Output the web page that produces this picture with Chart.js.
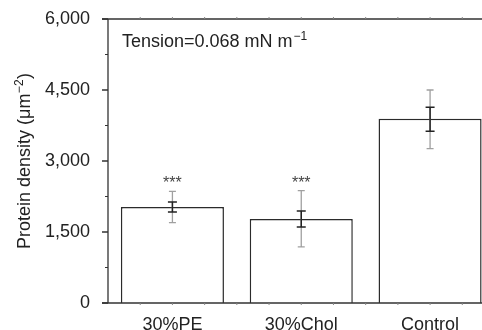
<!DOCTYPE html>
<html>
<head>
<meta charset="utf-8">
<script src="https://cdn.jsdelivr.net/npm/chart.js@4"></script>
<style>
  html, body { margin: 0; padding: 0; background: #fff; overflow: hidden; }
  #wrap { width: 500px; height: 330px; }
</style>
</head>
<body>
<div id="wrap"><canvas id="c" width="500" height="330"></canvas></div>
<script>
// ---- data ----
const categories = ['30%PE', '30%Chol', 'Control'];
const means      = [2030, 1775, 3890];
const semLow     = [1925, 1605, 3630];
const semHigh    = [2135, 1945, 4135];
const sdLow      = [1700, 1185, 3260];
const sdHigh     = [2360, 2375, 4500];
const significance = ['***', '***', ''];
const yTicks     = [0, 1500, 3000, 4500, 6000];
const annotationMain = 'Tension=0.068 mN m';
const annotationSup  = '\u22121';
const yTitleMain = 'Protein density (\u03BCm';
const yTitleSup  = '\u22122';
const yTitleEnd  = ')';

const FONT = '"Liberation Sans", Arial, Helvetica, sans-serif';
const TXT = '#222';
const AX = '#333';

const overlay = {
  id: 'overlay',
  afterDraw(chart) {
    const ctx = chart.ctx;
    const xs = chart.scales.x, ys = chart.scales.y;
    const ca = chart.chartArea;
    const L = ca.left, T = ys.getPixelForValue(6000), B = ys.getPixelForValue(0);
    ctx.save();
    ctx.strokeStyle = AX;
    ctx.lineWidth = 1.3;
    ctx.beginPath();
    ctx.moveTo(L, T); ctx.lineTo(L, B);
    ctx.moveTo(L - 6, B); ctx.lineTo(chart.width, B);
    ctx.moveTo(L - 6, T); ctx.lineTo(chart.width, T);
    ctx.stroke();
    ctx.beginPath();
    yTicks.forEach(v => { const y = ys.getPixelForValue(v); ctx.moveTo(L - 6, y); ctx.lineTo(L, y); });
    ctx.stroke();
    ctx.lineWidth = 1;
    ctx.beginPath();
    for (let i = 0; i < yTicks.length - 1; i++) {
      const y = ys.getPixelForValue((yTicks[i] + yTicks[i + 1]) / 2);
      ctx.moveTo(L - 3, y); ctx.lineTo(L, y);
    }
    ctx.stroke();
    ctx.strokeStyle = '#888';
    ctx.beginPath();
    for (let q = -0.25; q <= categories.length - 0.5; q += 0.25) {
      const x = xs.getPixelForValue(q);
      ctx.moveTo(x, B); ctx.lineTo(x, B + 2);
      ctx.moveTo(x, T); ctx.lineTo(x, T - 2);
    }
    ctx.stroke();

    const drawErr = (lo, hi, color, lw, cap) => {
      ctx.strokeStyle = color; ctx.lineWidth = lw;
      ctx.beginPath();
      categories.forEach((c, i) => {
        const x = xs.getPixelForValue(i);
        const y1 = ys.getPixelForValue(lo[i]), y2 = ys.getPixelForValue(hi[i]);
        ctx.moveTo(x, y1); ctx.lineTo(x, y2);
        ctx.moveTo(x - cap / 2, y1); ctx.lineTo(x + cap / 2, y1);
        ctx.moveTo(x - cap / 2, y2); ctx.lineTo(x + cap / 2, y2);
      });
      ctx.stroke();
    };
    drawErr(sdLow, sdHigh, '#a0a0a0', 1.3, 7);
    drawErr(semLow, semHigh, '#222', 1.5, 9);

    ctx.fillStyle = '#444';
    ctx.font = '16px ' + FONT;
    ctx.textAlign = 'center';
    ctx.textBaseline = 'alphabetic';
    categories.forEach((c, i) => {
      if (!significance[i]) return;
      const x = xs.getPixelForValue(i);
      ctx.fillText(significance[i], x, 188);
    });

    ctx.fillStyle = TXT;
    ctx.textAlign = 'left';
    ctx.font = '18px ' + FONT;
    const ax = 122, ay = 47;
    ctx.fillText(annotationMain, ax, ay);
    const w1 = ctx.measureText(annotationMain).width;
    ctx.font = '12px ' + FONT;
    ctx.fillText(annotationSup, ax + w1 + 1, ay - 7);

    ctx.translate(30, (T + B) / 2);
    ctx.rotate(-Math.PI / 2);
    ctx.font = '18px ' + FONT;
    const wa = ctx.measureText(yTitleMain).width;
    const wc = ctx.measureText(yTitleEnd).width;
    ctx.font = '12px ' + FONT;
    const wb = ctx.measureText(yTitleSup).width;
    const tot = wa + wb + wc + 1;
    let sx = -tot / 2;
    ctx.font = '18px ' + FONT;
    ctx.fillText(yTitleMain, sx, 0);
    sx += wa;
    ctx.font = '12px ' + FONT;
    ctx.fillText(yTitleSup, sx + 0.5, -7);
    sx += wb + 1;
    ctx.font = '18px ' + FONT;
    ctx.fillText(yTitleEnd, sx, 0);
    ctx.restore();
  }
};

new Chart(document.getElementById('c'), {
  type: 'bar',
  data: {
    labels: categories,
    datasets: [{
      data: means,
      backgroundColor: '#ffffff',
      borderColor: '#2b2b2b',
      borderWidth: 1.5,
      barPercentage: 0.8,
      categoryPercentage: 1.0
    }]
  },
  options: {
    responsive: false,
    animation: false,
    layout: { padding: { top: 19, right: 5.5, left: 0, bottom: 0 } },
    plugins: { legend: { display: false }, tooltip: { enabled: false }, title: { display: false } },
    scales: {
      x: {
        grid: { display: false, drawTicks: false },
        border: { display: false },
        ticks: { font: { family: FONT, size: 18 }, color: TXT, padding: 11 },
        afterFit(s) { s.height = 27; s.paddingLeft = 0; s.paddingRight = 0; }
      },
      y: {
        min: 0, max: 6000,
        afterBuildTicks(s) { s.ticks = yTicks.map(v => ({ value: v })); },
        grid: { display: false, drawTicks: false },
        border: { display: false },
        ticks: {
          font: { family: FONT, size: 18 }, color: TXT, padding: 18,
          callback: v => v.toLocaleString('en-US')
        },
        afterFit(s) { s.width = 108; s.paddingTop = 0; s.paddingBottom = 0; }
      }
    }
  },
  plugins: [overlay]
});
</script>
</body>
</html>
